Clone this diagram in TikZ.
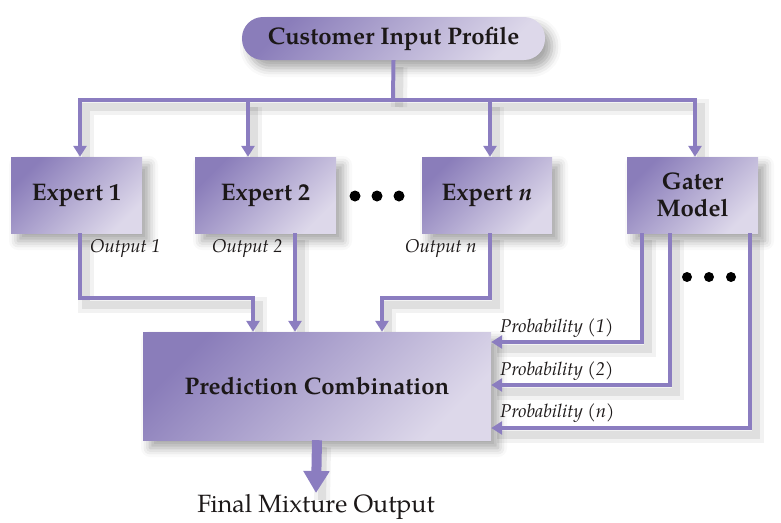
\documentclass[tikz,border=0pt]{standalone}
\usepackage{fontspec}
\setmainfont{texgyrepagella}[Extension=.otf, UprightFont=*-regular, BoldFont=*-bold, ItalicFont=*-italic, BoldItalicFont=*-bolditalic]
\usetikzlibrary{arrows.meta,shadows.blur,backgrounds}
\definecolor{boxdark}{HTML}{8A7DBA}
\definecolor{boxmid}{HTML}{B6ADD3}
\definecolor{boxlight}{HTML}{DDD8EA}
\definecolor{wirecol}{HTML}{8B7DC0}
\definecolor{ink}{HTML}{1C1818}

% draw a connector together with its soft drop shadow on the background layer
\newcommand\wire[2]{%
  \begin{pgfonlayer}{background}
    \draw[wshadow, line width=16pt, draw opacity=.05] #2;
    \draw[wshadow, line width=8pt, draw opacity=.08] #2;
  \end{pgfonlayer}
  \draw[#1] #2;}

\begin{document}
\begin{tikzpicture}[x=1pt, y=-1pt,
  box/.style={shading=axis, top color=boxdark, middle color=boxmid, bottom color=boxlight,
    shading angle=45, inner sep=0pt, align=center, text=ink, font=\bfseries\fontsize{24}{27}\selectfont,
    blur shadow={shadow xshift=7pt, shadow yshift=-8pt, shadow blur radius=9pt, shadow opacity=35}},
  wire/.style={draw=wirecol, line width=4pt},
  arr/.style={wire, -{Triangle[width=13pt,length=11pt]}},
  bigarr/.style={draw=wirecol, line width=10pt, -{Triangle[width=25pt,length=22pt]}},
  wshadow/.style={draw=black, transform canvas={shift={(6pt,-7pt)}}},
  lbl/.style={font=\itshape\fontsize{18.5}{20}\selectfont, text=ink, inner sep=0pt},
  dot/.style={circle, fill=black, inner sep=0pt, minimum size=11pt}]

\useasboundingbox (0,0) rectangle (781,522);

% blocks
\node[box, rounded corners=21pt, minimum width=303pt, minimum height=43pt] (cip) at (393.5,38.5) {Customer Input Profile};
\node[box, minimum width=131pt, minimum height=76pt] (e1) at (76.5,195) {Expert 1};
\node[box, minimum width=141pt, minimum height=76pt] (e2) at (265.5,195) {Expert 2};
\node[box, minimum width=130pt, minimum height=76pt] (en) at (487,195) {Expert \textit{n}};
\node[box, minimum width=131pt, minimum height=76pt] (gm) at (692.5,195) {Gater\\Model};
\node[box, minimum width=348pt, minimum height=108pt] (pc) at (317,386) {Prediction Combination};
\node[font=\fontsize{25}{27}\selectfont, text=ink, inner sep=0pt] (fmo) at (316,507) {Final Mixture Output};

% ellipses
\node[dot] (d1) at (355,196) {};
\node[dot] (d2) at (377,196) {};
\node[dot] (d3) at (399,196) {};
\node[dot, minimum size=10pt] (g1) at (687,277) {};
\node[dot, minimum size=10pt] (g2) at (709,277) {};
\node[dot, minimum size=10pt] (g3) at (731,277) {};

% routing points
\coordinate (bus) at (393,100);
\coordinate (x1) at (80,0);
\coordinate (x2) at (248,0);
\coordinate (x3) at (490,0);
\coordinate (x4) at (695,0);
\coordinate (x6) at (295,0);
\coordinate (o1) at (253,298);
\coordinate (o3) at (382,298);
\coordinate (p1) at (642,342);
\coordinate (p2) at (670,385);
\coordinate (p3) at (750,428);
\coordinate (fin) at (316,493);

% fan-out from the input profile
\wire{wire}{(cip.south) -- (bus)}
\wire{arr}{(bus) -| (x1 |- e1.north)}
\wire{arr}{(bus) -| (x4 |- gm.north)}
\wire{arr}{(x2 |- bus) -- (x2 |- e2.north)}
\wire{arr}{(x3 |- bus) -- (x3 |- en.north)}

% expert outputs
\wire{arr}{(x1 |- e1.south) |- (o1) -- (o1 |- pc.north)}
\wire{arr}{(x6 |- e2.south) -- (x6 |- pc.north)}
\wire{arr}{(x3 |- en.south) |- (o3) -- (o3 |- pc.north)}

% gating probabilities
\wire{arr}{(p1 |- gm.south) -- (p1) -- (p1 -| pc.east)}
\wire{arr}{(p2 |- gm.south) -- (p2) -- (p2 -| pc.east)}
\wire{arr}{(p3 |- gm.south) -- (p3) -- (p3 -| pc.east)}

% final output
\wire{bigarr}{(pc.south) -- (fin)}

% labels
\node[lbl, anchor=west] (l1) at (90,249) {Output 1};
\node[lbl, anchor=west] (l2) at (212,249) {Output 2};
\node[lbl, anchor=west] (l3) at (405,249) {Output n};
\node[lbl, anchor=west] (q1) at (500,328) {Probability (1)};
\node[lbl, anchor=west] (q2) at (500,371) {Probability (2)};
\node[lbl, anchor=west] (q3) at (500,413) {Probability (n)};
\end{tikzpicture}
\end{document}
